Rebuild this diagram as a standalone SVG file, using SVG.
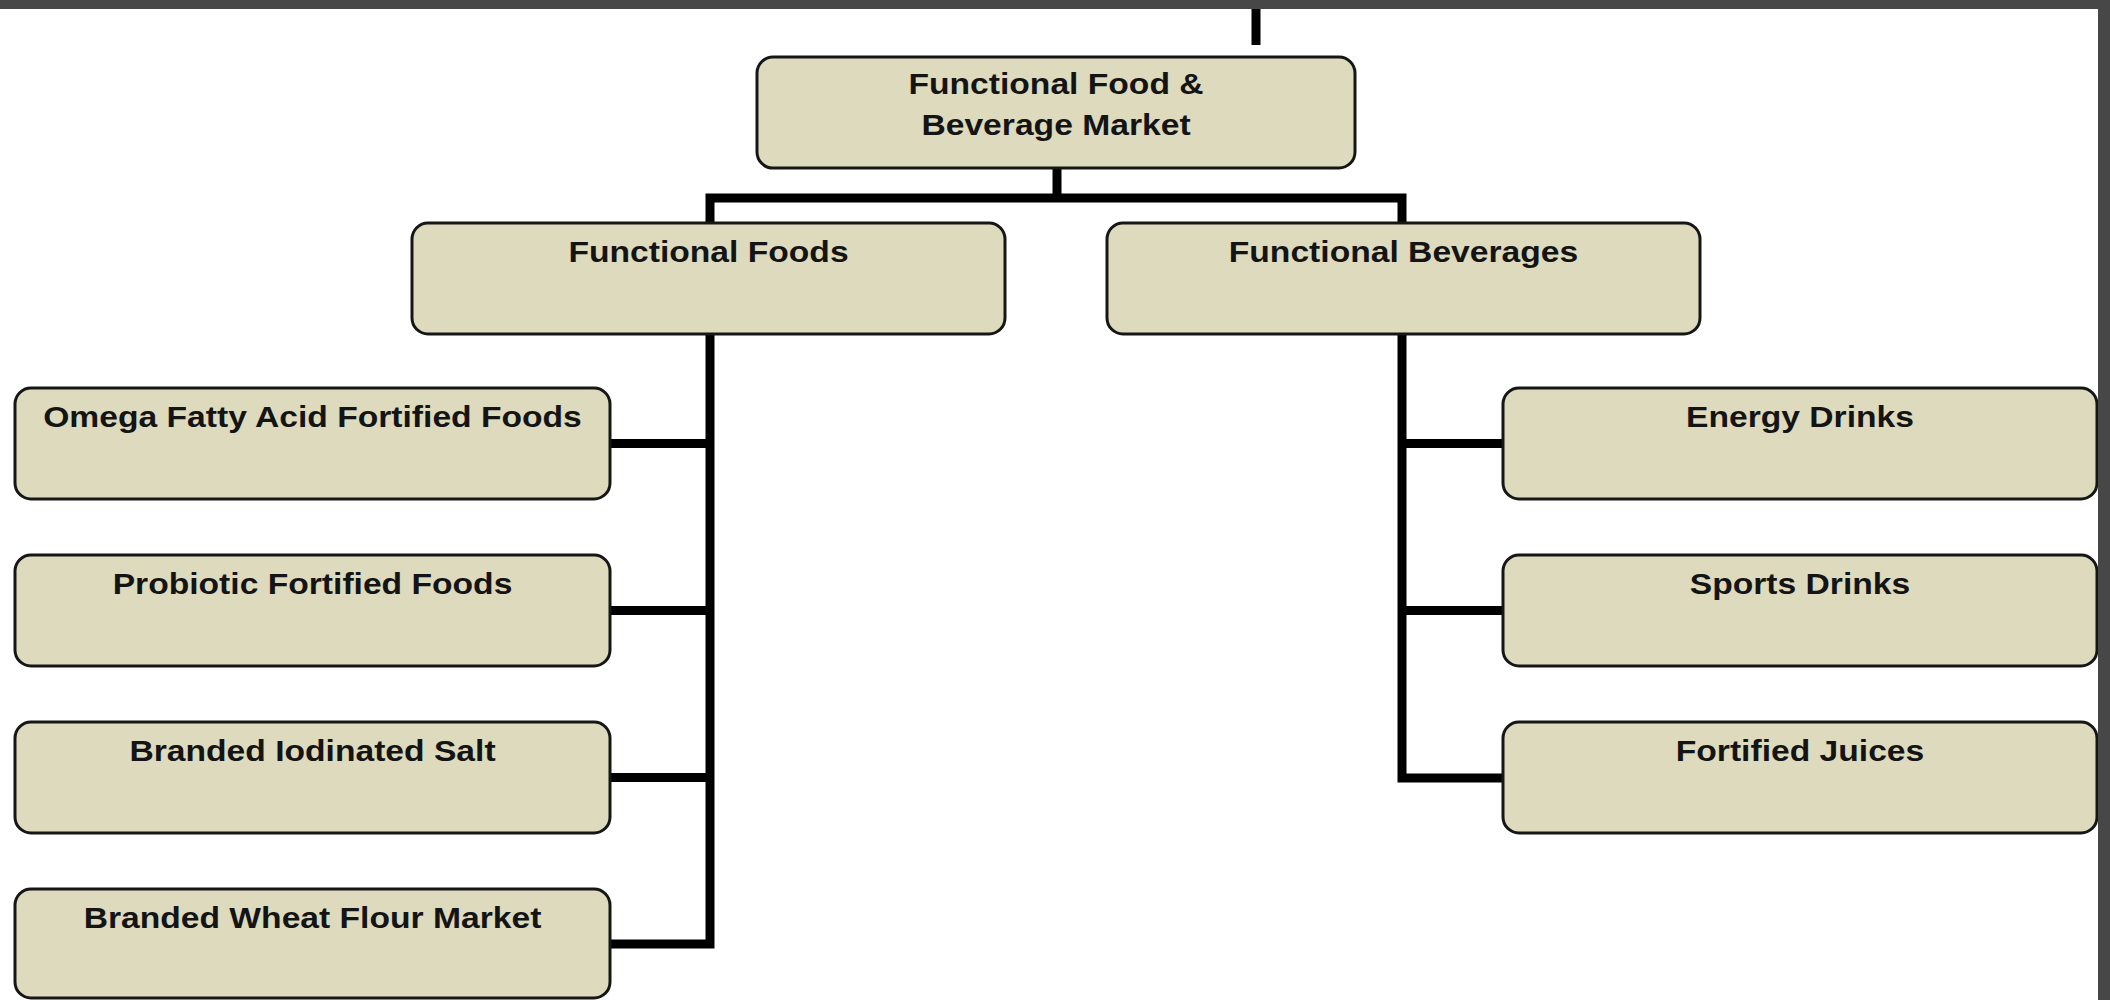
<svg xmlns="http://www.w3.org/2000/svg" width="2110" height="1000" viewBox="0 0 2110 1000">
  <style>
    .box { fill: #dddabd; stroke: #161616; stroke-width: 3; }
    .lbl { font-family: "Liberation Sans", Arial, sans-serif; font-weight: bold; font-size: 29px; fill: #141414; text-anchor: middle; }
    .wire { fill: none; stroke: #000; stroke-width: 9; stroke-linejoin: miter; stroke-linecap: butt; }
    .frame { fill: #474747; }
  </style>
  <rect width="2110" height="1000" fill="#ffffff"/>

  <!-- connectors -->
  <g id="connectors">
    <path class="wire" d="M1256 9 V45"/>
    <path class="wire" d="M1057 168 V198"/>
    <path class="wire" d="M610 944 H710 V198 H1402 V778 H1503"/>
    <path class="wire" d="M610 443.5 H710 M610 610.5 H710 M610 777.5 H710"/>
    <path class="wire" d="M1402 443.5 H1503 M1402 610.5 H1503"/>
  </g>

  <!-- root -->
  <g id="node-market">
    <rect class="box" x="757" y="57" width="598" height="111" rx="16"/>
    <text class="lbl" transform="translate(1056 94) scale(1.16 1)">Functional Food &amp;</text>
    <text class="lbl" transform="translate(1056 135) scale(1.16 1)">Beverage Market</text>
  </g>

  <!-- second level -->
  <g id="node-foods">
    <rect class="box" x="412" y="223" width="593" height="111" rx="16"/>
    <text class="lbl" transform="translate(708.5 262) scale(1.16 1)">Functional Foods</text>
  </g>
  <g id="node-beverages">
    <rect class="box" x="1107" y="223" width="593" height="111" rx="16"/>
    <text class="lbl" transform="translate(1403.5 262) scale(1.16 1)">Functional Beverages</text>
  </g>

  <!-- food categories -->
  <g id="node-omega">
    <rect class="box" x="15" y="388" width="595" height="111" rx="16"/>
    <text class="lbl" transform="translate(312.5 427) scale(1.16 1)">Omega Fatty Acid Fortified Foods</text>
  </g>
  <g id="node-probiotic">
    <rect class="box" x="15" y="555" width="595" height="111" rx="16"/>
    <text class="lbl" transform="translate(312.5 594) scale(1.16 1)">Probiotic Fortified Foods</text>
  </g>
  <g id="node-salt">
    <rect class="box" x="15" y="722" width="595" height="111" rx="16"/>
    <text class="lbl" transform="translate(312.5 761) scale(1.16 1)">Branded Iodinated Salt</text>
  </g>
  <g id="node-flour">
    <rect class="box" x="15" y="889" width="595" height="109" rx="16"/>
    <text class="lbl" transform="translate(312.5 928) scale(1.16 1)">Branded Wheat Flour Market</text>
  </g>

  <!-- beverage categories -->
  <g id="node-energy">
    <rect class="box" x="1503" y="388" width="594" height="111" rx="16"/>
    <text class="lbl" transform="translate(1800 427) scale(1.16 1)">Energy Drinks</text>
  </g>
  <g id="node-sports">
    <rect class="box" x="1503" y="555" width="594" height="111" rx="16"/>
    <text class="lbl" transform="translate(1800 594) scale(1.16 1)">Sports Drinks</text>
  </g>
  <g id="node-juices">
    <rect class="box" x="1503" y="722" width="594" height="111" rx="16"/>
    <text class="lbl" transform="translate(1800 761) scale(1.16 1)">Fortified Juices</text>
  </g>

  <!-- dark window edges -->
  <rect class="frame" x="0" y="0" width="2110" height="9"/>
  <rect class="frame" x="2098" y="0" width="12" height="1000"/>
</svg>
